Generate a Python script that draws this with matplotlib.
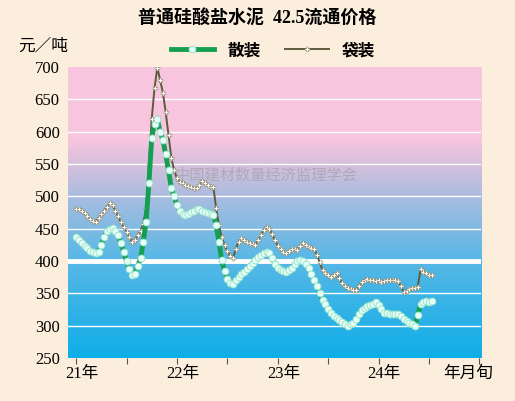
import numpy as np
import matplotlib
matplotlib.use("Agg")
import matplotlib.pyplot as plt
from matplotlib.colors import LinearSegmentedColormap

plt.rcParams["font.family"] = ["Liberation Serif", "Noto Sans CJK SC", "DejaVu Sans"]

# 旬度数据：2021年1月上旬起
bulk = [437, 433, 428, 424, 420, 416, 414, 413, 414,
        425, 437, 446, 450, 451,
        447, 440, 428, 414, 400, 388, 378,
        380, 392, 404,
        430, 461, 520, 590,
        612, 620, 600, 587,
        565, 540, 513, 500, 486,
        478, 472, 471, 473, 476, 478, 480, 480,
        478, 476, 474, 472, 471,
        455, 430, 401,
        385, 372, 366, 364,
        370, 376, 380, 383,
        388, 392, 397, 402, 406, 410, 413, 414,
        412, 405, 396, 389,
        386, 384, 383,
        386, 390, 395, 400, 402,
        400, 396, 389,
        380, 371, 362, 350,
        340, 333, 326, 320, 315,
        312, 309, 306, 303, 300,
        302, 304, 310, 318, 324,
        327, 330, 332, 334, 336,
        332, 326, 320,
        319, 318, 318, 318, 318,
        315, 311, 308, 305, 302, 300,
        316, 333,
        337, 338, 337, 338]

bagged = [481, 480, 478, 474, 469, 465, 462, 461,
          466, 472, 478, 484, 489, 487,
          478, 469, 460, 453,
          445, 437, 430, 432,
          440, 446, 458, 482,
          548, 620, 667, 699,
          680, 660, 630, 595,
          560, 540, 528, 522,
          520, 518, 516, 514, 513, 513,
          518, 524, 520, 517, 515, 515,
          482, 455, 437,
          425, 415, 408, 405,
          418, 430, 435,
          432, 430, 428, 426, 425,
          432, 440, 448, 453, 450,
          442, 432, 424, 418, 414,
          413, 415, 418, 419, 417,
          424, 428, 425,
          422, 420, 418, 410, 398, 386,
          382, 378, 375, 378, 381, 374, 366,
          362, 359, 357, 356, 355,
          362, 367, 370, 372,
          371, 370, 369, 370, 368,
          369, 370, 371, 370, 370, 369,
          362, 352, 353, 357, 358, 359,
          360, 387, 383, 381, 379, 378]

year_labels = ["21年", "22年", "23年", "24年"]
yticks = list(range(250, 701, 50))

bg = "#FCEEDC"
fig = plt.figure(figsize=(5.15, 4.01), dpi=100, facecolor=bg)
ax = fig.add_axes([0.132, 0.107, 0.802, 0.726])

x = np.arange(len(bulk))
xmin, xmax = -2.9, 144.6

# 背景渐变：上粉下蓝
cmap = LinearSegmentedColormap.from_list("bg", [
    (0.0, "#0FAEE8"), (0.35, "#5BB8E6"), (0.55, "#A9BCE0"),
    (0.68, "#DCC0DC"), (0.75, "#F8C5DF"), (1.0, "#F9C6E0")])
grad = np.linspace(0, 1, 256).reshape(-1, 1)
ax.imshow(grad, cmap=cmap, aspect="auto", origin="lower",
          extent=[xmin, xmax, 250, 700], zorder=0)

for v in yticks[1:-1]:
    ax.axhline(v, color="white", lw=3.5 if v == 400 else 1.0, zorder=1)

ax.plot(x, bagged, color="#5E5A3C", lw=1.4, marker="P", ms=3.5,
        mfc="white", mec="#8A8060", mew=0.4, zorder=3, label="袋装")
ax.plot(x, bulk, color="#14A050", lw=3.5, marker="o", ms=5,
        mfc="#E6FFF6", mec="#8FE0C8", mew=0.6, zorder=4, label="散装")

ax.text(68, 533, "中国建材数量经济监理学会", color="#999999", alpha=0.55,
        fontsize=11, ha="center", va="center", family=["Noto Sans CJK SC"], zorder=2)

ax.set_xlim(xmin, xmax)
ax.set_ylim(250, 700)
ax.set_yticks(yticks)
ax.set_yticklabels([str(v) for v in yticks], fontsize=12)
ax.set_xticks(np.arange(0, 145, 18))
ax.set_xticklabels([])
ax.tick_params(axis="x", length=4, color="#555555", direction="out")
ax.tick_params(axis="y", length=0, pad=6)
for s in ax.spines.values():
    s.set_visible(False)

for i, lab in enumerate(year_labels):
    ax.text(i * 36 + 2, 225, lab, ha="center", va="center", fontsize=12,
            clip_on=False)
ax.text(140, 225, "年月旬", ha="center", va="center", fontsize=12, clip_on=False)

fig.text(0.035, 0.885, "元／吨", fontsize=12, ha="left", va="center")
fig.text(0.5, 0.955, "普通硅酸盐水泥  42.5流通价格", fontsize=13, ha="center",
         va="center", weight="bold")

h, l = ax.get_legend_handles_labels()
fig.legend(h[::-1], l[::-1], loc="center", bbox_to_anchor=(0.53, 0.875), ncol=2,
           frameon=False, handlelength=2.6, columnspacing=1.5,
           prop={"family": ["Noto Sans CJK SC"], "size": 12, "weight": "bold"})

fig.savefig("out.png", dpi=100, facecolor=bg)
